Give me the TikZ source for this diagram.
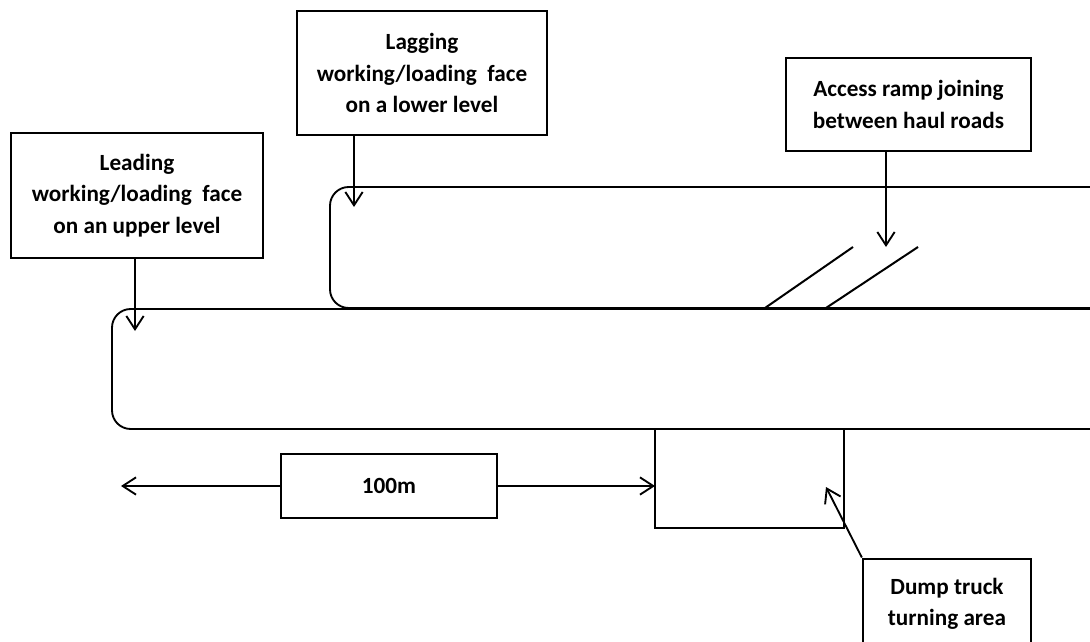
\documentclass[tikz,border=0pt]{standalone}
\usepackage{fontspec}
\setmainfont{Carlito}
\usetikzlibrary{positioning,arrows.meta,calc}

\begin{document}
\begin{tikzpicture}[
        x=0.75pt,y=-0.75pt,
        box/.style={
          draw,
          line width=1.7pt,
          align=center,
          inner sep=0pt,
          font=\bfseries\fontsize{17.4}{23.5}\selectfont
        },
        road/.style={line width=1.4pt,rounded corners=14pt},
        edge/.style={line width=1.5pt},
        arr/.style={-{Straight Barb[length=10pt,width=13pt,line width=1.4pt]},line width=1.4pt}
      ]
      \useasboundingbox (0,0) rectangle (1090,642);

      % Label boxes
      \node[box,minimum width=189pt,minimum height=94pt] (leading) at (137,195.5) {Leading\\working/loading\ \ face\\on an upper level};
      \node[box,minimum width=187.5pt,minimum height=93pt] (lagging) at (422,73) {Lagging\\working/loading\ \ face\\on a lower level};
      \node[box,minimum width=184pt,minimum height=70pt] (ramp) at (908.5,104.5) {Access ramp joining\\between haul roads};
      \node[box,minimum width=162pt,minimum height=48pt] (dist) at (389,486) {100m};
      \node[box,minimum width=126pt,minimum height=68pt] (turn) at (947,604) {Dump truck\\turning area};

      % Haul roads, both run off the right edge
      \draw[road] (1092,187) -- (330,187) -- (330,308) -- (1092,308);
      \draw[road] (1092,309) -- (112,309) -- (112,429) -- (1092,429);

      % Ramp and turning area
      \draw[edge] (765,308) -- (853,247);
      \draw[edge] (826,308) -- (918,247);
      \draw[edge] (655,429) -- (655,528) -- (844,528) -- (844,429);

      % Arrows from the boxes
      \coordinate (leadend) at (135,331);
      \coordinate (lagend) at (354,207);
      \coordinate (rampend) at (886,247);
      \coordinate (distl) at (121,486);
      \coordinate (distr) at (655,486);
      \coordinate (turnend) at (826,487);
      \draw[arr] (leading.south -| leadend) -- (leadend);
      \draw[arr] (lagging.south -| lagend) -- (lagend);
      \draw[arr] (ramp.south -| rampend) -- (rampend);
      \draw[arr] (dist.west) -- (distl);
      \draw[arr] (dist.east) -- (distr);
      \draw[arr] (turn.north west) -- (turnend);
\end{tikzpicture}
\end{document}
